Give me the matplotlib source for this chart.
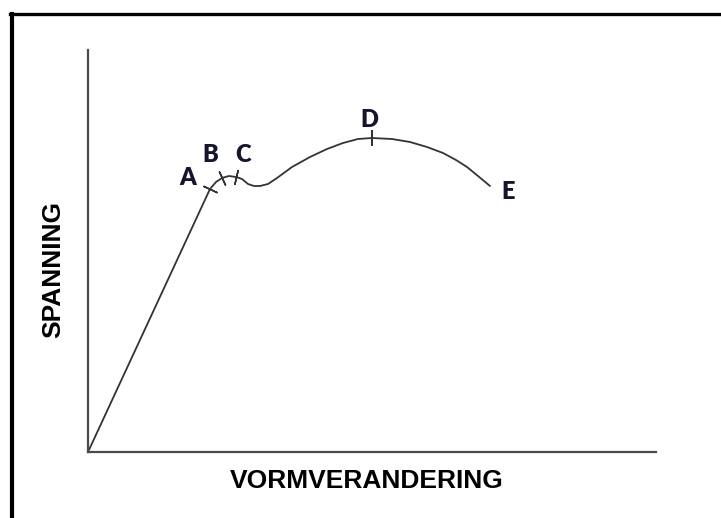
import numpy as np
import matplotlib
matplotlib.use("Agg")
import matplotlib.pyplot as plt
from matplotlib.lines import Line2D

# curve (x = deformation, y = stress, arbitrary units)
curve_x = [0, 122, 128, 134, 141, 148, 154, 160, 166, 172, 180, 189, 204, 222,
           239, 255, 270, 284, 304, 322, 339, 355, 368, 379, 390, 402]
curve_y = [0, 263, 270, 274, 276, 275, 273, 268, 266, 266, 268, 274, 285, 295,
           303, 309, 313, 314, 313, 310, 305, 299, 292, 285, 276, 266]

# points that carry a small cross mark (index into the curve)
mark_idx = [1, 3, 5, 17]

point_names = ["A", "B", "C", "D", "E"]
name_x = [100, 122, 155, 281, 420]
name_y = [274, 297, 297, 332, 260]

fig = plt.figure(figsize=(7.21, 5.18), dpi=100)
W, H = 721, 518
ax = fig.add_axes([88 / W, (H - 452) / H, 568 / W, 402 / H])
ax.set_xlim(0, 568)
ax.set_ylim(0, 402)

for s in ["top", "right"]:
    ax.spines[s].set_visible(False)
for s in ["left", "bottom"]:
    ax.spines[s].set_color("#4a4a4a")
    ax.spines[s].set_linewidth(1.6)
ax.set_xticks([])
ax.set_yticks([])

cx = np.array(curve_x, dtype=float)
cy = np.array(curve_y, dtype=float)
ax.plot(cx, cy, color="#333333", lw=1.3, solid_capstyle="round")

# short marks across the curve
for i in mark_idx:
    dx = cx[i + 1] - cx[i - 1]
    dy = cy[i + 1] - cy[i - 1]
    ang = np.degrees(np.arctan2(dy, dx))
    ax.plot(cx[i], cy[i], marker=(2, 2, ang), markersize=11,
            markeredgecolor="#333333", markeredgewidth=1.1)

for name, x, y in zip(point_names, name_x, name_y):
    ax.text(x, y, name, ha="center", va="center", fontsize=17,
            fontweight="heavy", family=["Lato", "Open Sans", "DejaVu Sans"],
            color="#15152e")

fig.text(367 / W, 1 - 481 / H, "VORMVERANDERING", ha="center", va="center",
         fontsize=19, fontweight="bold", family="Liberation Sans")
fig.text(53 / W, 1 - 269 / H, "SPANNING", ha="center", va="center",
         rotation=90, fontsize=19, fontweight="bold", family="Liberation Sans")

# frame lines at the top and left of the picture
fig.add_artist(Line2D([10 / W, 1], [1 - 13.5 / H, 1 - 13.5 / H], color="black",
                      lw=2.4, transform=fig.transFigure))
fig.add_artist(Line2D([12 / W, 12 / W], [0, 1 - 13.5 / H], color="black",
                      lw=3.0, transform=fig.transFigure))

fig.savefig("out.png", dpi=100)
